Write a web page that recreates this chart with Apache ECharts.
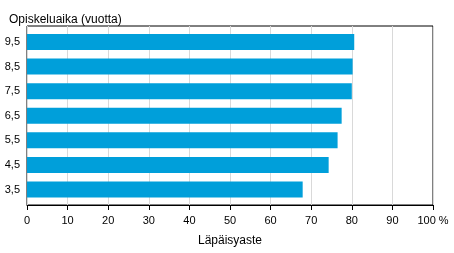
<!DOCTYPE html>
<html><head><meta charset="utf-8">
<script src="https://cdn.jsdelivr.net/npm/echarts@6/dist/echarts.min.js"></script>
<style>html,body{margin:0;padding:0;background:#fff}#c{width:454px;height:253px}</style>
</head><body><div id="c"></div>
<script>
var categories = ['3,5', '4,5', '5,5', '6,5', '7,5', '8,5', '9,5'];
var values = [67.9, 74.3, 76.5, 77.5, 80.0, 80.2, 80.6];
var xTicks = [0, 10, 20, 30, 40, 50, 60, 70, 80, 90, 100];
var titleText = 'Opiskeluaika (vuotta)';
var xName = 'Läpäisyaste';

var font = 'Liberation Sans, Arial, sans-serif';
var xMin = xTicks[0], xMax = xTicks[xTicks.length - 1];
var chart = echarts.init(document.getElementById('c'));
chart.setOption({
  animation: false,
  title: { text: titleText, left: 4, top: 9, textStyle: { fontFamily: font, fontSize: 12, fontWeight: 'normal', color: '#000' } },
  grid: [
    { left: 27, right: 21, top: 26, bottom: 48, show: true, borderColor: '#000', borderWidth: 1, containLabel: false },
    { left: 27, right: 21, top: 29.7, bottom: 51.2, show: false, containLabel: false }
  ],
  xAxis: [{
    gridIndex: 0, type: 'value', min: xMin, max: xMax, interval: 10,
    name: xName, nameLocation: 'middle', nameGap: 30,
    nameTextStyle: { fontFamily: font, fontSize: 12, color: '#000' },
    axisLine: { show: true, lineStyle: { color: '#000', width: 1 } },
    axisTick: { show: true, length: 5, lineStyle: { color: '#000' } },
    axisLabel: { fontFamily: font, fontSize: 11, color: '#000', margin: 10,
      formatter: function (v) { return v === 100 ? '100 %' : String(v); } },
    splitLine: { show: true, lineStyle: { color: '#d9d9d9', width: 1 } }
  }, {
    gridIndex: 1, type: 'value', min: xMin, max: xMax, interval: 10, show: false,
    splitLine: { show: false }
  }],
  yAxis: [{
    gridIndex: 0, type: 'value', show: false, splitLine: { show: false }
  }, {
    gridIndex: 1, type: 'category', data: categories,
    axisLine: { show: false },
    axisTick: { show: false },
    axisLabel: { fontFamily: font, fontSize: 11, color: '#000', margin: 7 },
    splitLine: { show: false }
  }],
  series: [{
    type: 'bar', xAxisIndex: 1, yAxisIndex: 1, data: values, barWidth: 16,
    itemStyle: { color: '#009fda' }
  }]
});
</script></body></html>
